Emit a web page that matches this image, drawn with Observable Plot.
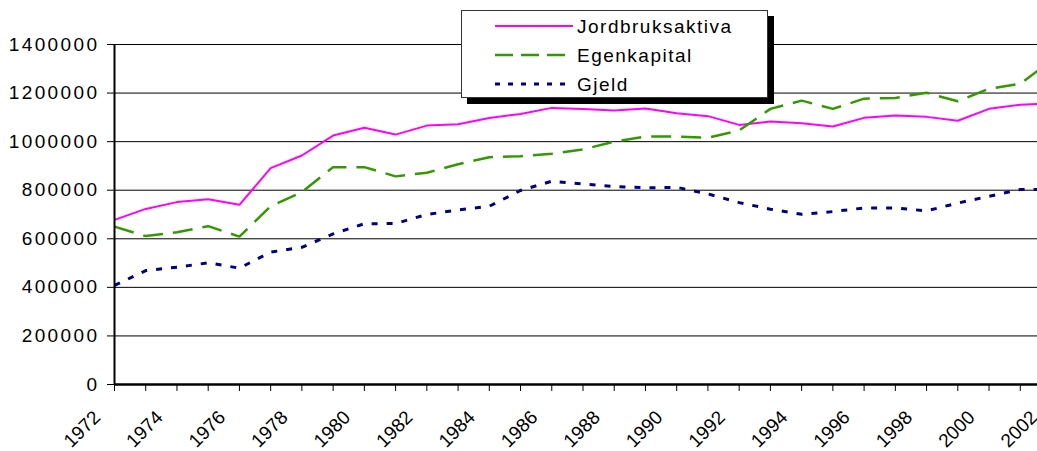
<!DOCTYPE html>
<html><head><meta charset="utf-8">
<script src="https://cdn.jsdelivr.net/npm/d3@7"></script>
<script src="https://cdn.jsdelivr.net/npm/@observablehq/plot@0.6"></script>
<style>
body{margin:0;background:#fff;}
#wrap{position:relative;width:1037px;height:451px;overflow:hidden;font-family:"Liberation Sans",Arial,sans-serif;background:#fff;}
#wrap svg.plot{position:absolute;left:0;top:0;}
#wrap g[aria-label="y-axis tick label"] text{letter-spacing:2.4px;}
#legend{position:absolute;left:461px;top:10px;width:305px;height:86px;background:#fff;border:1px solid #333;box-shadow:6px 6px 0 #000;}
#legend text{font-family:"Liberation Sans",Arial,sans-serif;font-size:19px;letter-spacing:1.5px;fill:#000;}
</style></head><body><div id="wrap"></div>
<script>
const years = [1972,1973,1974,1975,1976,1977,1978,1979,1980,1981,1982,1983,1984,1985,1986,1987,1988,1989,1990,1991,1992,1993,1994,1995,1996,1997,1998,1999,2000,2001,2002];
const jordbruksaktiva = [678000,723000,751000,763000,740000,891000,943000,1025000,1057000,1029000,1066000,1072000,1097000,1114000,1139000,1134000,1128000,1136000,1117000,1105000,1069000,1083000,1076000,1062000,1098000,1108000,1102000,1086000,1135000,1152000,1158000];
const egenkapital = [650000,611000,627000,652000,609000,734000,792000,895000,895000,857000,872000,907000,936000,940000,950000,968000,1000000,1021000,1021000,1016000,1046000,1135000,1169000,1135000,1177000,1180000,1201000,1166000,1218000,1238000,1335000];
const gjeld = [408000,469000,483000,501000,479000,545000,565000,620000,662000,663000,700000,719000,734000,799000,837000,826000,815000,810000,812000,785000,749000,722000,701000,712000,727000,727000,715000,747000,775000,803000,803000];
const seriesNames = ["Jordbruksaktiva","Egenkapital","Gjeld"];
const yTicks = [0,200000,400000,600000,800000,1000000,1200000,1400000];
const xLabelYears = [1972,1974,1976,1978,1980,1982,1984,1986,1988,1990,1992,1994,1996,1998,2000,2002];

const seriesValues = [jordbruksaktiva, egenkapital, gjeld];
const styles = [
  {stroke:"#ff00ff", strokeWidth:2, dash:null, legendDash:null},
  {stroke:"#339900", strokeWidth:2.5, dash:"20,10", legendDash:"18,8"},
  {stroke:"#000080", strokeWidth:3, dash:"6,9", legendDash:"5,8"}
];
const rows = [];
seriesValues.forEach((vals, s) => vals.forEach((v, i) => rows.push({series: seriesNames[s], year: years[i], value: v})));

const lineMarks = seriesNames.map((name, s) => Plot.line(rows.filter(r => r.series === name), {
  x: "year", y: "value", stroke: styles[s].stroke, strokeWidth: styles[s].strokeWidth,
  strokeDasharray: styles[s].dash, strokeLinejoin: "miter", strokeLinecap: "butt"
}));

const chart = Plot.plot({
  width: 1037, height: 451,
  marginLeft: 114, marginRight: -14, marginTop: 44, marginBottom: 67,
  style: {fontFamily: '"Liberation Sans", Arial, sans-serif', background: "#fff", color: "#000"},
  x: {type: "linear", domain: [1972, 2002]},
  y: {domain: [0, 1400000]},
  marks: [
    Plot.ruleY(yTicks.filter(d => d > 0), {stroke: "#000", strokeWidth: 1}),
    Plot.axisY({ticks: yTicks, tickSize: 7, tickPadding: 8, tickFormat: d => String(d), fontSize: 19, label: null, stroke: "#000"}),
    Plot.axisX({ticks: years, tickSize: 7, tickFormat: () => "", label: null, stroke: "#000"}),
    Plot.text(xLabelYears, {x: d => d, y: 0, text: d => String(d), rotate: -45, textAnchor: "end", lineAnchor: "bottom", dx: -13, dy: 34, fontSize: 19, fill: "#000"}),
    ...lineMarks,
    Plot.ruleX([1972], {y1: 0, y2: 1400000, stroke: "#000", strokeWidth: 2}),
    Plot.ruleY([0], {stroke: "#000", strokeWidth: 2.5})
  ]
});
const wrap = document.getElementById("wrap");
wrap.appendChild(chart);

// Legend
const legend = document.createElement("div");
legend.id = "legend";
const ns = "http://www.w3.org/2000/svg";
const lsvg = document.createElementNS(ns, "svg");
lsvg.setAttribute("width", 305); lsvg.setAttribute("height", 86);
const rowY = [15, 44, 73];
seriesNames.forEach((name, s) => {
  const ln = document.createElementNS(ns, "line");
  ln.setAttribute("x1", 33); ln.setAttribute("x2", 111);
  ln.setAttribute("y1", rowY[s]); ln.setAttribute("y2", rowY[s]);
  ln.setAttribute("stroke", styles[s].stroke);
  ln.setAttribute("stroke-width", styles[s].strokeWidth);
  if (styles[s].legendDash) ln.setAttribute("stroke-dasharray", styles[s].legendDash);
  lsvg.appendChild(ln);
  const tx = document.createElementNS(ns, "text");
  tx.setAttribute("x", 115); tx.setAttribute("y", rowY[s] + 7);
  tx.textContent = name;
  lsvg.appendChild(tx);
});
legend.appendChild(lsvg);
wrap.appendChild(legend);
</script></body></html>
